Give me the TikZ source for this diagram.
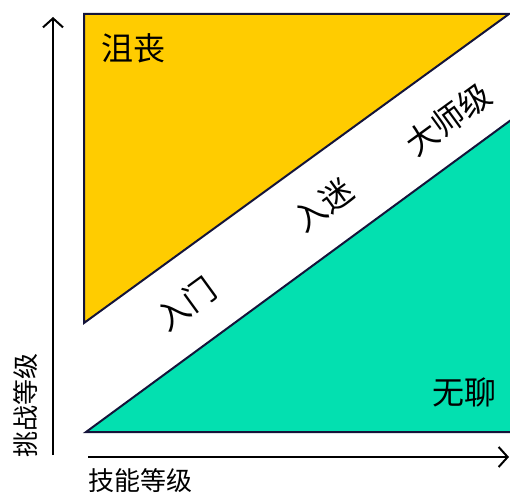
\documentclass[tikz,border=0pt]{standalone}
\usepackage{fontspec}
\usepackage{tikz}
\usetikzlibrary{arrows.meta, positioning, calc}
\newfontfamily\cjk{Noto Sans CJK SC}
\definecolor{frustyellow}{HTML}{FFCC00}
\definecolor{boredgreen}{HTML}{03E0B0}
\definecolor{edgenavy}{HTML}{14143A}

\begin{document}
\begin{tikzpicture}[x=1pt, y=-1pt, >={Straight Barb[length=9pt,width=20pt]}]
    \tikzstyle{zone} = [draw=edgenavy, line width=2pt, line join=miter]
    \tikzstyle{axis} = [line width=2pt, ->, color=black]
    \tikzstyle{bigtxt} = [font=\cjk\fontsize{32}{33}\selectfont, inner sep=0pt]
    \tikzstyle{axtxt} = [font=\cjk\fontsize{26}{27}\selectfont, inner sep=0pt]
    \useasboundingbox (0,0) rectangle (510,495);

    % zones
    \draw [zone, fill=frustyellow] (84,14) -- (509,14) -- (84,323) -- cycle;
    \draw [zone, fill=boredgreen] (86,432) -- (511,120) -- (511,432) -- cycle;

    % axes
    \coordinate (yfoot) at (53,455);
    \coordinate (yhead) at (53,17);
    \coordinate (xfoot) at (88,457);
    \coordinate (xhead) at (509,457);
    \draw [axis] (yfoot) -- (yhead);
    \draw [axis] (xfoot) -- (xhead);

    \node (skill) [axtxt] at (140,481) {技能等级};
    \node (challenge) [axtxt, rotate=90] at (26,405) {挑战等级};

    \node (frust) [bigtxt] at (133,48) {沮丧};
    \node (bored) [bigtxt] at (464,392) {无聊};
    \node (novice) [bigtxt, rotate=36] at (186,304) {入门};
    \node (flow) [bigtxt, rotate=36] at (323,205) {入迷};
    \node (master) [bigtxt, rotate=36] at (448,119) {大师级};
\end{tikzpicture}
\end{document}
